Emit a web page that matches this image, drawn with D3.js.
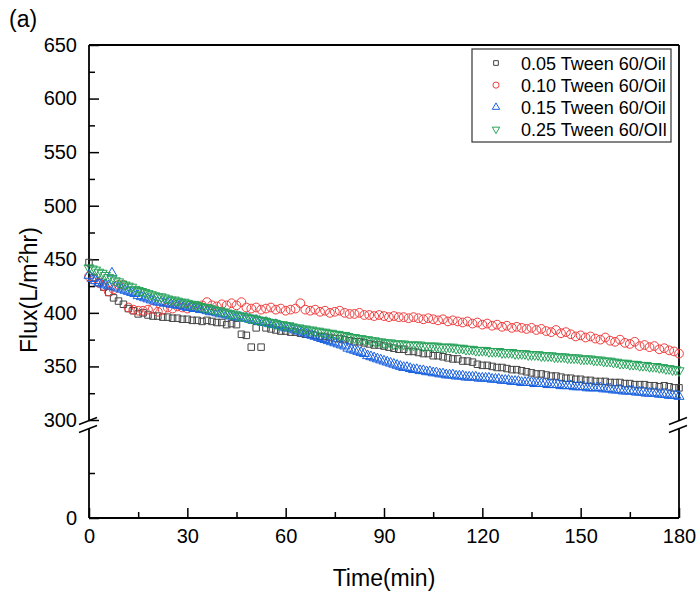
<!DOCTYPE html>
<html>
<head>
<meta charset="utf-8">
<script src="https://cdn.jsdelivr.net/npm/d3@7"></script>
<style>
  body { margin: 0; background: #fff; }
  text { font-family: 'Liberation Sans', Arial, sans-serif; fill: #000; }
</style>
</head>
<body>
<svg id="chart" width="697" height="594"></svg>
<script>
// Series labels
const labels = ['0.05 Tween 60/Oil', '0.10 Tween 60/Oil', '0.15 Tween 60/Oil', '0.25 Tween 60/OIl'];

// Sampling step (min) of each series
const steps = [1.5, 1.5, 1, 1];

// Flux values, 0.05 Tween 60/Oil (every 1.5 min)
const flux005 = [
  447, 433, 428, 424, 419, 414, 411, 408, 404, 402,
  399, 400, 398, 397, 397, 396, 396, 395, 395, 394,
  394, 393, 393, 392, 393, 392, 391, 391, 389, 390,
  389, 380, 379, 368, 386, 368, 386, 385, 384, 383,
  383, 382, 382, 381, 380, 380, 379, 378, 378, 377,
  376, 376, 375, 374, 373, 373, 372, 371, 370, 370,
  369, 368, 367, 366, 366, 364, 364, 363, 362, 362,
  360, 360, 359, 358, 357, 357, 355, 355, 354, 352,
  351, 351, 350, 349, 349, 348, 347, 347, 346, 345,
  344, 343, 343, 342, 341, 341, 340, 339, 339, 338,
  338, 337, 337, 336, 336, 336, 335, 335, 335, 334,
  334, 333, 333, 333, 332, 332, 331, 332, 331, 330,
  330,
];

// Flux values, 0.10 Tween 60/Oil (every 1.5 min)
const flux010 = [
  434, 431, 428, 425, 420, 422, 426, 426, 405, 403,
  402, 402, 403, 404, 401, 403, 405, 404, 406, 405,
  404, 406, 405, 407, 410, 407, 406, 408, 407, 409,
  407, 410, 405, 404, 405, 403, 404, 405, 403, 404,
  402, 403, 404, 409, 403, 402, 403, 401, 402, 400,
  401, 402, 400, 399, 399, 400, 398, 398, 397, 398,
  397, 396, 397, 396, 396, 395, 396, 395, 394, 395,
  394, 393, 394, 392, 393, 392, 391, 392, 390, 391,
  389, 390, 388, 389, 387, 388, 386, 387, 386, 385,
  386, 384, 385, 383, 382, 384, 381, 382, 380, 378,
  379, 377, 378, 376, 375, 377, 374, 373, 375, 372,
  371, 373, 369, 370, 368, 369, 366, 367, 365, 364,
  362,
];

// Flux values, 0.15 Tween 60/Oil (every 1 min)
const flux015 = [
  435, 432, 430, 428, 427, 426, 425, 437, 424, 423,
  422, 421, 420, 419, 418, 416, 415, 414, 413, 412,
  411, 410, 410, 409, 409, 408, 408, 407, 407, 406,
  405, 405, 404, 404, 403, 403, 402, 401, 401, 400,
  399, 399, 398, 397, 397, 396, 396, 395, 395, 394,
  393, 393, 392, 391, 391, 390, 389, 389, 388, 387,
  386, 386, 385, 384, 383, 382, 381, 380, 379, 378,
  377, 376, 375, 374, 373, 372, 371, 370, 369, 367,
  366, 365, 364, 363, 362, 360, 359, 358, 357, 356,
  355, 354, 353, 352, 351, 350, 349, 349, 348, 347,
  347, 346, 346, 345, 345, 344, 344, 343, 343, 342,
  342, 342, 341, 341, 341, 340, 340, 340, 340, 339,
  339, 339, 339, 338, 338, 338, 337, 337, 337, 336,
  336, 336, 335, 335, 335, 335, 334, 334, 334, 334,
  333, 333, 333, 333, 332, 332, 332, 332, 331, 331,
  331, 331, 330, 330, 330, 330, 330, 329, 329, 329,
  328, 328, 328, 327, 327, 327, 327, 326, 326, 326,
  325, 325, 325, 325, 324, 324, 324, 323, 323, 323,
  322,
];

// Flux values, 0.25 Tween 60/Oil (every 1 min)
const flux025 = [
  442, 441, 440, 438, 437, 435, 433, 432, 430, 429,
  427, 426, 425, 424, 422, 421, 420, 419, 418, 417,
  416, 415, 415, 414, 413, 412, 412, 411, 410, 410,
  409, 408, 408, 407, 406, 405, 405, 404, 403, 402,
  402, 401, 400, 399, 399, 398, 397, 397, 396, 395,
  395, 394, 393, 393, 392, 391, 391, 390, 389, 389,
  388, 388, 387, 386, 386, 385, 385, 384, 384, 383,
  383, 382, 382, 381, 381, 380, 380, 379, 379, 378,
  377, 377, 376, 376, 375, 375, 374, 374, 373, 373,
  372, 372, 372, 371, 371, 371, 371, 370, 370, 370,
  370, 370, 369, 369, 369, 369, 369, 368, 368, 368,
  368, 368, 367, 367, 367, 366, 366, 366, 365, 365,
  365, 365, 364, 364, 364, 364, 363, 363, 363, 363,
  362, 362, 362, 362, 361, 361, 361, 361, 360, 360,
  360, 360, 359, 359, 359, 359, 358, 358, 358, 358,
  357, 357, 357, 357, 356, 356, 356, 355, 355, 355,
  354, 354, 353, 353, 353, 352, 352, 352, 351, 351,
  351, 350, 350, 350, 349, 349, 348, 348, 347, 347,
  346,
];

const seriesValues = [flux005, flux010, flux015, flux025];

// Axis ticks
const xTicks = [0, 30, 60, 90, 120, 150, 180];
const xMinor = [15, 45, 75, 105, 135, 165];
const yUpperTicks = [300, 350, 400, 450, 500, 550, 600, 650];
const yUpperMinor = [325, 375, 425, 475, 525, 575, 625];
const yLowerTicks = [0];
const yLowerMinor = [50];

const colors = ['#444444', '#f03c3c', '#1a62e0', '#27a35a'];
const shapes = [d3.symbolSquare, d3.symbolCircle, d3.symbolTriangle, d3.symbolTriangle];
const sizes = [42, 60, 44, 44];
const legendSizes = [22, 30, 24, 24];
const rotations = [0, 0, 0, 180];

const svg = d3.select('#chart');

const plotLeft = 89;
const plotRight = 679;
const plotTop = 45;
const plotBottom = 518;
const breakTop = 421;
const breakBottom = 429;

const x = d3.scaleLinear().domain([0, 180]).range([plotLeft, plotRight]);
// Broken y axis: upper part 300-650, lower part 0-100
const yUp = d3.scaleLinear().domain([300, 650]).range([420, plotTop]);
const yLow = d3.scaleLinear().domain([0, 100]).range([plotBottom, 428]);

const axisG = svg.append('g');

const styleAxis = (g) => {
  g.select('.domain').remove();
  g.selectAll('.tick line').attr('stroke', '#000').attr('stroke-width', 1.5);
  g.selectAll('.tick text').style('font-size', '20px')
    .style('font-family', "'Liberation Sans', Arial, sans-serif");
};

// X axis (ticks inward)
axisG.append('g')
  .attr('transform', `translate(0,${plotBottom})`)
  .call(d3.axisBottom(x).tickValues(xTicks).tickSize(-10).tickPadding(11))
  .call(styleAxis);
axisG.append('g')
  .attr('transform', `translate(0,${plotBottom})`)
  .call(d3.axisBottom(x).tickValues(xMinor).tickSize(-6).tickFormat(''))
  .call(styleAxis);

// Y axis, upper and lower segments
axisG.append('g')
  .attr('transform', `translate(${plotLeft},0)`)
  .call(d3.axisLeft(yUp).tickValues(yUpperTicks).tickSize(-10).tickPadding(12))
  .call(styleAxis);
axisG.append('g')
  .attr('transform', `translate(${plotLeft},0)`)
  .call(d3.axisLeft(yUp).tickValues(yUpperMinor).tickSize(-6).tickFormat(''))
  .call(styleAxis);
axisG.append('g')
  .attr('transform', `translate(${plotLeft},0)`)
  .call(d3.axisLeft(yLow).tickValues(yLowerTicks).tickSize(-10).tickPadding(12))
  .call(styleAxis);
axisG.append('g')
  .attr('transform', `translate(${plotLeft},0)`)
  .call(d3.axisLeft(yLow).tickValues(yLowerMinor).tickSize(-6).tickFormat(''))
  .call(styleAxis);

// Frame lines
const line = (x1, y1, x2, y2) => axisG.append('line')
  .attr('x1', x1).attr('y1', y1).attr('x2', x2).attr('y2', y2)
  .attr('stroke', '#000').attr('stroke-width', 1.8);

line(plotLeft, plotTop, plotRight, plotTop);
line(plotLeft, plotBottom, plotRight, plotBottom);
[plotLeft, plotRight].forEach((ax) => {
  line(ax, plotTop, ax, breakTop);
  line(ax, breakBottom, ax, plotBottom);
  // break marks
  line(ax - 10, breakTop + 3.5, ax + 8, breakTop - 3.5).attr('stroke-width', 1.4);
  line(ax - 10, breakBottom + 3.5, ax + 8, breakBottom - 3.5).attr('stroke-width', 1.4);
});

// Data markers
const marksG = svg.append('g');
seriesValues.forEach((vals, i) => {
  const sym = d3.symbol().type(shapes[i]).size(sizes[i]);
  marksG.append('g')
    .selectAll('path')
    .data(vals)
    .join('path')
    .attr('d', sym)
    .attr('transform', (d, j) => `translate(${x(j * steps[i])},${yUp(d)}) rotate(${rotations[i]})`)
    .attr('fill', 'none')
    .attr('stroke', colors[i])
    .attr('stroke-width', 1);
});

// Legend
const legend = svg.append('g');
legend.append('rect')
  .attr('x', 472).attr('y', 49).attr('width', 199).attr('height', 93)
  .attr('fill', '#fff').attr('stroke', '#333').attr('stroke-width', 1.2);
labels.forEach((lab, i) => {
  const ly = 63 + i * 22.1;
  legend.append('path')
    .attr('d', d3.symbol().type(shapes[i]).size(legendSizes[i])())
    .attr('transform', `translate(496,${ly}) rotate(${rotations[i]})`)
    .attr('fill', 'none').attr('stroke', colors[i]).attr('stroke-width', 1);
  legend.append('text')
    .attr('x', 521).attr('y', ly + 6.5)
    .style('font-size', '18px')
    .text(lab);
});

// Axis titles
svg.append('text')
  .attr('x', x(90)).attr('y', 586)
  .attr('text-anchor', 'middle')
  .style('font-size', '23px')
  .text('Time(min)');

const yTitle = svg.append('text')
  .attr('transform', 'translate(37,290) rotate(-90)')
  .attr('text-anchor', 'middle')
  .style('font-size', '23px');
yTitle.append('tspan').text('Flux(L/m');
yTitle.append('tspan').attr('dy', -9).style('font-size', '15px').text('2');
yTitle.append('tspan').attr('dy', 9).text('hr)');

svg.append('text')
  .attr('x', 9).attr('y', 27)
  .style('font-size', '23px')
  .text('(a)');
</script>
</body>
</html>
